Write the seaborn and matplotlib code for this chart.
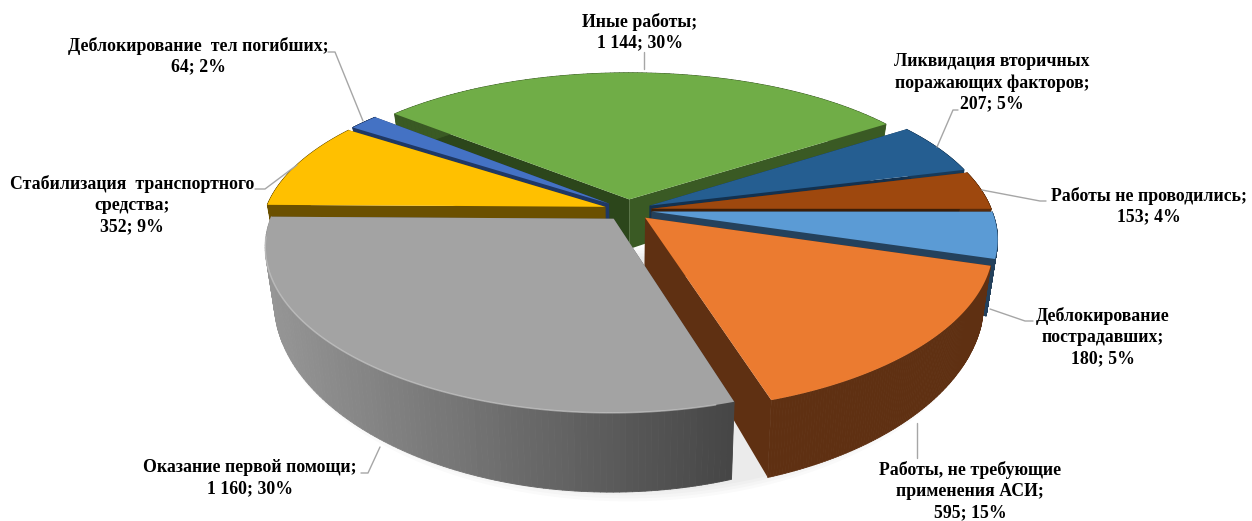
import matplotlib
matplotlib.use("Agg")
import matplotlib.pyplot as plt
from matplotlib.collections import PolyCollection
from matplotlib.patches import Polygon
import seaborn as sns
import numpy as np

# clockwise, starting from the green slice
labels = ["Иные работы", "Ликвидация вторичных\nпоражающих факторов", "Работы не проводились",
          "Деблокирование\nпострадавших", "Работы, не требующие\nприменения АСИ",
          "Оказание первой помощи", "Стабилизация  транспортного\nсредства",
          "Деблокирование  тел погибших"]
values = [1144, 207, 153, 180, 595, 1160, 352, 64]

top_colors = ["#70ad47", "#255e91", "#9e480e", "#5b9bd5", "#eb7b30", "#a3a3a3", "#ffc000", "#4472c4"]
start_faces = ["#2c461b", "#13314f", "#5a2b0a", "#24415c", "#5f3012", "#555555", "#6b5000", "#1f3864"]
end_faces = ["#3a5a24", "#13314f", "#3d1e08", "#24415c", "#5f3012", "#555555", "#6b5000", "#1f3864"]
side_left = ["#3a5a24", "#173a5a", "#5a2b0a", "#24415c", "#5f3012", "#969696", "#6b5000", "#1f3864"]
side_right = ["#3a5a24", "#173a5a", "#5a2b0a", "#24415c", "#5f3012", "#454545", "#6b5000", "#1f3864"]

# label centre x, y and leader line points (pixels)
label_pos = [(640, 32), (992, 83), (1149, 206), (1103, 337), (970, 491), (250, 478), (132, 205), (198, 56)]
leaders = [
    [(644, 52), (644, 69)],
    [(937, 147), (953, 110), (958, 110)],
    [(982, 190), (1040, 201), (1046, 201)],
    [(990, 309), (1025, 321), (1033, 321)],
    [(917, 423), (917, 458)],
    [(380, 447), (368, 473), (361, 473)],
    [(297, 165), (265, 189), (255, 189)],
    [(363, 121), (335, 52), (328, 52)],
]
draw_order = [0, 1, 7, 2, 6, 3, 4, 5]

CX, CY = 628, 210
RX, RY, K, KX = 340, 154, 0.1875, 0.165
DEPTH = 51
EXPLODE = 0.07
START = 140.4


def project(u, v, low=False):
    w = 1 + K * v
    x = CX + RX * u / (1 + KX * v)
    y = CY - RY * v / w
    if low:
        x = CX + (x - CX) * 0.975
        y = y + DEPTH / w ** 2
    return np.column_stack([x, y])


sns.set_style("white")
fig = plt.figure(figsize=(12.52, 5.21), dpi=100)
ax = fig.add_axes([0, 0, 1, 1])
ax.set_xlim(0, 1252)
ax.set_ylim(521, 0)
ax.axis("off")

vals = np.array(values, dtype=float)
sweeps = vals / vals.sum() * 360
ends = START - np.cumsum(sweeps)
starts = ends + sweeps
mids = np.radians((starts + ends) / 2)

# soft shadow under the front of the pie
t = np.radians(np.linspace(175, 365, 120))
for grow in [11, 8, 5, 2]:
    pts = project(1.05 * np.cos(t), 1.05 * np.sin(t), low=True)
    pts[:, 1] += grow
    ax.add_patch(Polygon(pts, closed=True, fc="#000000", ec="none", alpha=0.02, zorder=1))

z = 2
for i in draw_order:
    ox, oy = EXPLODE * np.cos(mids[i]), EXPLODE * np.sin(mids[i])
    t = np.radians(np.linspace(starts[i], ends[i], 120))
    u, v = ox + np.cos(t), oy + np.sin(t)
    top = project(u, v)
    low = project(u, v, low=True)
    apex_top = project(np.array([ox]), np.array([oy]))
    apex_low = project(np.array([ox]), np.array([oy]), low=True)

    # flat cut faces go first, the wall hides the one facing away
    ax.add_patch(Polygon([apex_top[0], top[0], low[0], apex_low[0]], closed=True,
                         fc=start_faces[i], ec="none", zorder=z))
    ax.add_patch(Polygon([apex_top[0], top[-1], low[-1], apex_low[0]], closed=True,
                         fc=end_faces[i], ec="none", zorder=z + 0.1))

    # curved outer wall, blended left to right
    pal = sns.blend_palette([side_left[i], side_right[i]], 256)
    x0, x1 = 265, 740
    quads, cols = [], []
    for a in range(len(t) - 1):
        quads.append([top[a], top[a + 1], low[a + 1], low[a]])
        f = np.clip((top[a, 0] - x0) / (x1 - x0), 0, 1)
        cols.append(pal[int(f * 255)])
    ax.add_collection(PolyCollection(quads, facecolors=cols, edgecolors=cols, linewidths=0.6, zorder=z + 0.2))

    ax.add_patch(Polygon(np.vstack([apex_top, top]), closed=True,
                         fc=top_colors[i], ec="none", zorder=z + 0.3))
    # pale rim on the big grey slice
    if i == 5:
        ax.plot(top[3:-8, 0], top[3:-8, 1], color="#cccccc", lw=1.1, alpha=0.6, zorder=z + 0.4)
    z += 1

total = sum(values)
for name, val, (x, y), line in zip(labels, values, label_pos, leaders):
    num = f"{val:,}".replace(",", " ")
    txt = f"{name};\n{num}; {round(val / total * 100)}%"
    ax.text(x, y, txt, ha="center", va="center", family="Liberation Serif", fontweight="bold",
            fontsize=12.8, color="black", linespacing=1.3, zorder=40)
    xs, ys = zip(*line)
    ax.plot(xs, ys, color="#a6a6a6", lw=1.0, zorder=30)

fig.savefig("out.png", dpi=100)
